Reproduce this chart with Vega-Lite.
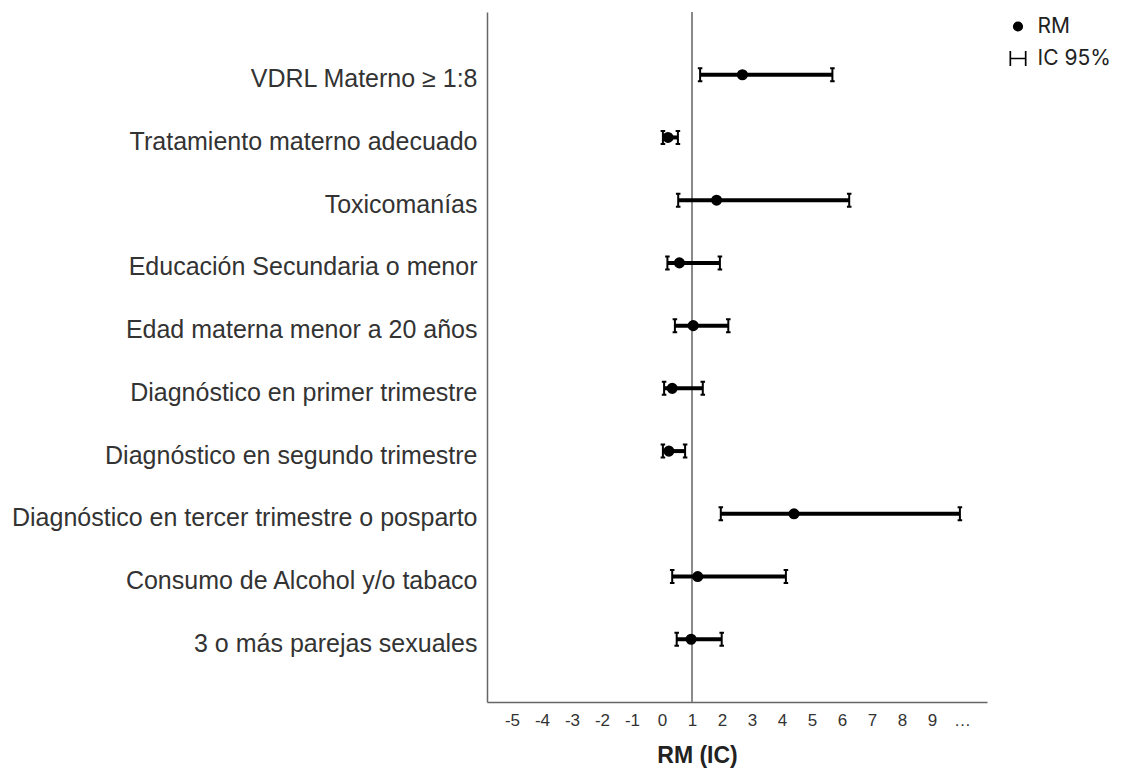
{
  "$schema": "https://vega.github.io/schema/vega-lite/v6.json",
  "autosize": "none",
  "padding": {"left": 487, "top": 12, "right": 150, "bottom": 69},
  "width": 500,
  "height": 690,
  "background": "white",
  "config": {
    "view": {"stroke": null},
    "font": "Liberation Sans",
    "axis": {"labelOverlap": false, "labelFlush": false}
  },
  "data": {
    "values": [
      {"factor": "VDRL Materno ≥ 1:8", "rm": 2.68, "low": 1.27, "high": 5.68},
      {"factor": "Tratamiento materno adecuado", "rm": 0.2, "low": 0.03, "high": 0.53},
      {"factor": "Toxicomanías", "rm": 1.82, "low": 0.54, "high": 6.24},
      {"factor": "Educación Secundaria o menor", "rm": 0.58, "low": 0.18, "high": 1.93},
      {"factor": "Edad materna menor a 20 años", "rm": 1.04, "low": 0.43, "high": 2.21},
      {"factor": "Diagnóstico en primer trimestre", "rm": 0.34, "low": 0.07, "high": 1.36},
      {"factor": "Diagnóstico en segundo trimestre", "rm": 0.23, "low": 0.03, "high": 0.77},
      {"factor": "Diagnóstico en tercer trimestre o posparto", "rm": 4.4, "low": 1.96, "high": 9.93},
      {"factor": "Consumo de Alcohol y/o tabaco", "rm": 1.19, "low": 0.34, "high": 4.13},
      {"factor": "3 o más parejas sexuales", "rm": 0.97, "low": 0.49, "high": 1.99}
    ]
  },
  "layer": [
    {
      "data": {"values": [{"ref": 1}]},
      "mark": {"type": "rule", "color": "#8a8a8a", "strokeWidth": 2},
      "encoding": {
        "x": {
          "field": "ref", "type": "quantitative",
          "scale": {"domain": [-5.8333, 10.8333], "nice": false, "zero": false},
          "axis": {
            "title": "RM (IC)",
            "values": [-5, -4, -3, -2, -1, 0, 1, 2, 3, 4, 5, 6, 7, 8, 9, 10],
            "labelExpr": "datum.value == 10 ? '…' : '' + datum.value",
            "grid": false, "ticks": false,
            "domainColor": "#666", "domainWidth": 1.5,
            "labelFont": "Liberation Sans", "labelFontSize": 17, "labelColor": "#333",
            "labelPadding": 10, "labelFlush": false, "labelOverlap": false,
            "titleFont": "Liberation Sans", "titleFontSize": 23, "titleFontWeight": "bold", "titleColor": "#222",
            "titleX": 210, "titleY": 60, "titleAlign": "center", "titleBaseline": "alphabetic"
          }
        }
      }
    },
    {
      "mark": {"type": "rule", "color": "black", "strokeWidth": 4},
      "encoding": {
        "y": {
          "field": "factor", "type": "nominal", "sort": null,
          "scale": {"type": "point", "padding": 1.035},
          "axis": {
            "title": null, "grid": false, "ticks": false,
            "domainColor": "#666", "domainWidth": 1.5,
            "labelFont": "Liberation Sans", "labelFontSize": 25, "labelColor": "#333",
            "labelPadding": 10, "labelLimit": 600, "labelOffset": 4
          }
        },
        "x": {
          "field": "low", "type": "quantitative",
          "axis": {
            "title": "RM (IC)",
            "values": [-5, -4, -3, -2, -1, 0, 1, 2, 3, 4, 5, 6, 7, 8, 9, 10],
            "labelExpr": "datum.value == 10 ? '…' : '' + datum.value",
            "grid": false, "ticks": false,
            "domainColor": "#666", "domainWidth": 1.5,
            "labelFont": "Liberation Sans", "labelFontSize": 17, "labelColor": "#333",
            "labelPadding": 10, "labelFlush": false, "labelOverlap": false,
            "titleFont": "Liberation Sans", "titleFontSize": 23, "titleFontWeight": "bold", "titleColor": "#222",
            "titleX": 210, "titleY": 60, "titleAlign": "center", "titleBaseline": "alphabetic"
          }
        },
        "x2": {"field": "high"}
      }
    },
    {
      "transform": [{"fold": ["low", "high"], "as": ["end", "val"]}],
      "mark": {"type": "point", "filled": false, "color": "black", "size": 169, "strokeWidth": 2, "opacity": 1,
               "shape": "M -0.35 -1 L 0.35 -1 M 0 -1 L 0 1 M -0.35 1 L 0.35 1"},
      "encoding": {
        "y": {"field": "factor", "type": "nominal", "sort": null},
        "x": {
          "field": "val", "type": "quantitative",
          "axis": {
            "title": "RM (IC)",
            "values": [-5, -4, -3, -2, -1, 0, 1, 2, 3, 4, 5, 6, 7, 8, 9, 10],
            "labelExpr": "datum.value == 10 ? '…' : '' + datum.value",
            "grid": false, "ticks": false,
            "domainColor": "#666", "domainWidth": 1.5,
            "labelFont": "Liberation Sans", "labelFontSize": 17, "labelColor": "#333",
            "labelPadding": 10, "labelFlush": false, "labelOverlap": false,
            "titleFont": "Liberation Sans", "titleFontSize": 23, "titleFontWeight": "bold", "titleColor": "#222",
            "titleX": 210, "titleY": 60, "titleAlign": "center", "titleBaseline": "alphabetic"
          }
        }
      }
    },
    {
      "mark": {"type": "point", "filled": true, "color": "black", "fill": "black", "stroke": "black", "strokeWidth": 1.6, "size": 90, "opacity": 1},
      "encoding": {
        "y": {"field": "factor", "type": "nominal", "sort": null},
        "x": {
          "field": "rm", "type": "quantitative",
          "axis": {
            "title": "RM (IC)",
            "values": [-5, -4, -3, -2, -1, 0, 1, 2, 3, 4, 5, 6, 7, 8, 9, 10],
            "labelExpr": "datum.value == 10 ? '…' : '' + datum.value",
            "grid": false, "ticks": false,
            "domainColor": "#666", "domainWidth": 1.5,
            "labelFont": "Liberation Sans", "labelFontSize": 17, "labelColor": "#333",
            "labelPadding": 10, "labelFlush": false, "labelOverlap": false,
            "titleFont": "Liberation Sans", "titleFontSize": 23, "titleFontWeight": "bold", "titleColor": "#222",
            "titleX": 210, "titleY": 60, "titleAlign": "center", "titleBaseline": "alphabetic"
          }
        },
        "shape": {
          "datum": "RM", "type": "nominal",
          "scale": {"domain": ["RM", "IC 95%"], "range": ["circle", "M -1.67 -1.47 L -1.34 -1.47 L -1.34 1.47 L -1.67 1.47 Z M -1.34 -0.17 L 1.34 -0.17 L 1.34 0.17 L -1.34 0.17 Z M 1.34 -1.47 L 1.67 -1.47 L 1.67 1.47 L 1.34 1.47 Z"]},
          "legend": {
            "title": null, "orient": "none", "legendX": 520.5, "legendY": 4,
            "padding": 0, "rowPadding": 10,
            "symbolSize": 104, "symbolFillColor": "black", "symbolStrokeColor": "black", "symbolStrokeWidth": 1.6,
            "symbolOpacity": 1,
            "labelFont": "Inter", "labelFontSize": 21, "labelColor": "#222", "labelOffset": 9
          }
        }
      }
    }
  ]
}
